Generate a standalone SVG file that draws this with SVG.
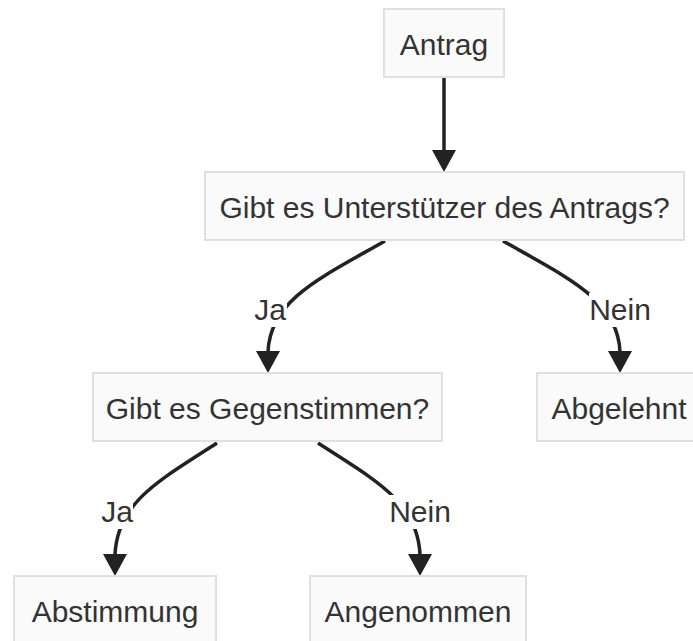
<svg xmlns="http://www.w3.org/2000/svg" width="693" height="641" viewBox="0 0 693 641">
<defs>
<style>
.node rect{fill:#fafafa;stroke:#e0e0e0;stroke-width:2}
text{font-family:"Liberation Sans",Arial,sans-serif;font-size:30px;fill:#333;text-anchor:middle}
.edge{fill:none;stroke:#222;stroke-width:3.5}
.lbl{fill:#ffffff}
</style>
<marker id="arr" viewBox="0 0 24 22" refX="24" refY="11" markerWidth="24" markerHeight="22" markerUnits="userSpaceOnUse" orient="auto">
<path d="M0,0 L24,11 L0,22 Z" fill="#222"/>
</marker>
</defs>
<rect width="693" height="641" fill="#ffffff"/>
<g id="connectors">
<path class="edge" d="M444,78 L444,150" />
<path d="M432,150 L456,150 L444,172 Z" fill="#222"/>
<path class="edge" d="M385,241 C320,278 270,300 268,352"/>
<path d="M256,351 L280,351 L268,373 Z" fill="#222"/>
<path class="edge" d="M503,241 C568,278 618,300 620,352"/>
<path d="M608,351 L632,351 L620,373 Z" fill="#222"/>
<path class="edge" d="M217,443 C160,480 117,502 115,555"/>
<path d="M103,554 L127,554 L115,576 Z" fill="#222"/>
<path class="edge" d="M318,443 C375,480 418,502 420,555"/>
<path d="M408,554 L432,554 L420,576 Z" fill="#222"/>
<g id="label-ja-1"><rect class="lbl" x="254" y="293" width="33" height="34"/><text x="270" y="320">Ja</text></g>
<g id="label-nein-1"><rect class="lbl" x="589" y="293" width="62" height="34"/><text x="620" y="320">Nein</text></g>
<g id="label-ja-2"><rect class="lbl" x="101" y="495" width="32" height="34"/><text x="117" y="522">Ja</text></g>
<g id="label-nein-2"><rect class="lbl" x="388" y="495" width="63" height="34"/><text x="420" y="522">Nein</text></g>
</g>
<g id="antrag" class="node"><rect x="384" y="9" width="120" height="68"/><text x="444" y="55">Antrag</text></g>
<g id="unterstuetzer" class="node"><rect x="205" y="172" width="479" height="68"/><text x="444.5" y="218">Gibt es Unterstützer des Antrags?</text></g>
<g id="gegenstimmen" class="node"><rect x="93" y="373" width="349" height="68"/><text x="267.5" y="419">Gibt es Gegenstimmen?</text></g>
<g id="abgelehnt" class="node"><rect x="537" y="373" width="164" height="68"/><text x="619" y="419">Abgelehnt</text></g>
<g id="abstimmung" class="node"><rect x="14" y="576" width="202" height="68"/><text x="115" y="622">Abstimmung</text></g>
<g id="angenommen" class="node"><rect x="310" y="576" width="216" height="68"/><text x="418" y="622">Angenommen</text></g>
</svg>
